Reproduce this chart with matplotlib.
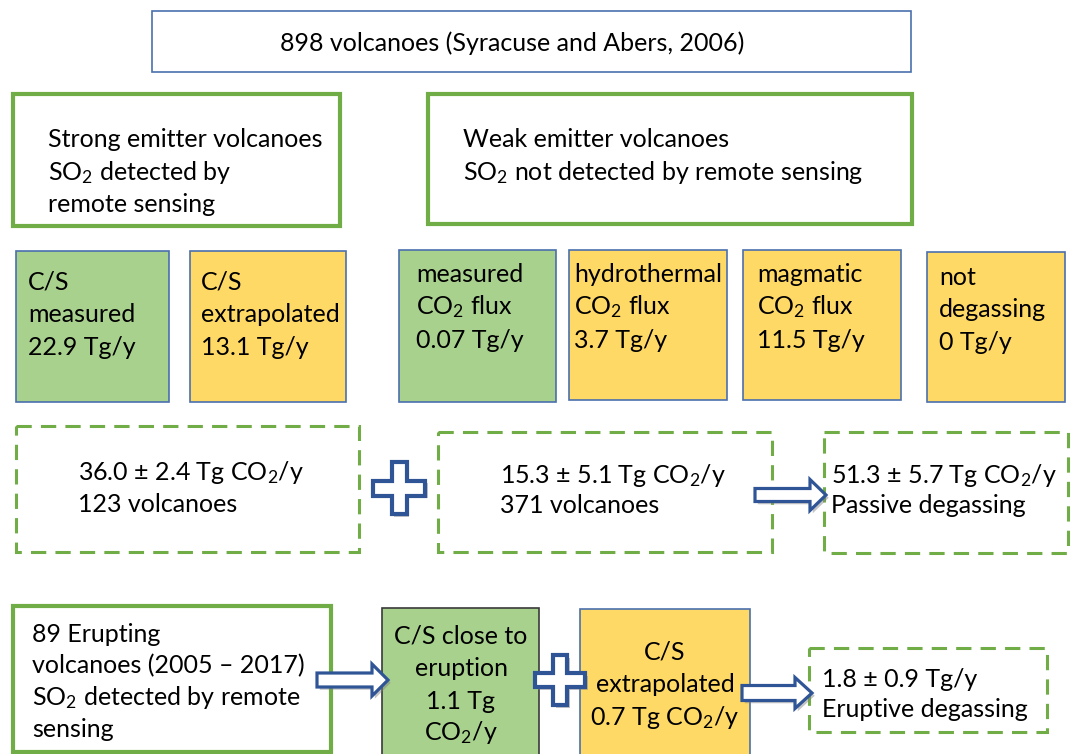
import matplotlib
matplotlib.use('Agg')
import matplotlib.pyplot as plt
from matplotlib.patches import Rectangle, Polygon
import matplotlib.patheffects as pe

plt.rcParams['font.family'] = ['Lato', 'DejaVu Sans']
plt.rcParams['mathtext.fontset'] = 'custom'
plt.rcParams['mathtext.rm'] = 'Lato'
plt.rcParams['mathtext.it'] = 'Lato:italic'
plt.rcParams['mathtext.bf'] = 'Lato:bold'

# texts of the diagram
title_text = '898 volcanoes (Syracuse and Abers, 2006)'
strong_lines = ['Strong emitter volcanoes', 'SO$_2$ detected by', 'remote sensing']
weak_lines = ['Weak emitter volcanoes', 'SO$_2$ not detected by remote sensing']
strong_src = [['C/S', 'measured', '22.9 Tg/y'],
              ['C/S', 'extrapolated', '13.1 Tg/y']]
weak_src = [['measured', 'CO$_2$ flux', '0.07 Tg/y'],
            ['hydrothermal', 'CO$_2$ flux', '3.7 Tg/y'],
            ['magmatic', 'CO$_2$ flux', '11.5 Tg/y'],
            ['not', 'degassing', '0 Tg/y']]
sums = [['36.0 ± 2.4 Tg CO$_2$/y', '123 volcanoes'],
        ['15.3 ± 5.1 Tg CO$_2$/y', '371 volcanoes'],
        ['51.3 ± 5.7 Tg CO$_2$/y', 'Passive degassing']]
erupt_lines = ['89 Erupting', 'volcanoes (2005 – 2017)', 'SO$_2$ detected by remote', 'sensing']
erupt_src = [['C/S close to', 'eruption', '1.1 Tg', 'CO$_2$/y'],
             ['C/S', 'extrapolated', '0.7 Tg CO$_2$/y']]
erupt_sum = ['1.8 ± 0.9 Tg/y', 'Eruptive degassing']

GREEN_EDGE = '#70AD47'
GREEN_FILL = '#A9D18E'
YELLOW_FILL = '#FFD966'
BLUE_EDGE = '#4A6FAE'
ARROW_BLUE = '#2F5597'
FS = 18

fig = plt.figure(figsize=(10.72, 7.54), dpi=100)
ax = fig.add_axes([0, 0, 1, 1])
ax.set_xlim(0, 1072)
ax.set_ylim(754, 0)
ax.axis('off')


def box(x0, y0, x1, y1, fc='white', ec=BLUE_EDGE, lw=1.2, ls='-'):
    ax.add_patch(Rectangle((x0, y0), x1 - x0, y1 - y0, facecolor=fc,
                           edgecolor=ec, linewidth=lw, linestyle=ls))


def lines(x, baselines, texts, ha='left', fs=FS):
    for y, t in zip(baselines, texts):
        ax.text(x, y, t, ha=ha, va='baseline', fontsize=fs, color='black')


shadow = [pe.SimplePatchShadow(offset=(2, -2), shadow_rgbFace='gray', alpha=0.45), pe.Normal()]


def plus(cx, cy, s=26, a=7.5):
    pts = [(cx - a, cy - s), (cx + a, cy - s), (cx + a, cy - a), (cx + s, cy - a),
           (cx + s, cy + a), (cx + a, cy + a), (cx + a, cy + s), (cx - a, cy + s),
           (cx - a, cy + a), (cx - s, cy + a), (cx - s, cy - a), (cx - a, cy - a)]
    p = Polygon(pts, closed=True, facecolor='white', edgecolor=ARROW_BLUE,
                linewidth=3, joinstyle='miter', zorder=5)
    p.set_path_effects(shadow)
    ax.add_patch(p)


def arrow(x0, x1, cy, xh, sh=7, hh=16):
    pts = [(x0, cy - sh), (xh, cy - sh), (xh, cy - hh), (x1, cy),
           (xh, cy + hh), (xh, cy + sh), (x0, cy + sh)]
    p = Polygon(pts, closed=True, facecolor='white', edgecolor=ARROW_BLUE,
                linewidth=2.3, joinstyle='miter', zorder=5)
    p.set_path_effects(shadow)
    ax.add_patch(p)


dash = (0, (5, 3))

# top
box(152, 11, 911, 72)
ax.text(512, 51, title_text, ha='center', va='baseline', fontsize=FS)

box(13, 94, 340, 226, ec=GREEN_EDGE, lw=3)
lines(48, [147, 180, 212], strong_lines)
box(428, 94, 912, 224, ec=GREEN_EDGE, lw=3)
lines(463, [147, 180], weak_lines)

# source boxes
src_x = [(16, 169, 28), (190, 346, 201)]
for (x0, x1, tx), txt, fc in zip(src_x, strong_src, [GREEN_FILL, YELLOW_FILL]):
    box(x0, 251, x1, 402, fc=fc)
    lines(tx, [290, 322, 355], txt)

weak_x = [(399, 556, 416, 250, 402), (569, 727, 574, 250, 400),
          (743, 901, 757, 250, 400), (927, 1065, 939, 252, 402)]
weak_base = [[282, 314, 348], [282, 314, 348], [282, 314, 348], [285, 317, 350]]
for (x0, x1, tx, y0, y1), txt, fc, bl in zip(weak_x, weak_src,
                                            [GREEN_FILL, YELLOW_FILL, YELLOW_FILL, YELLOW_FILL],
                                            weak_base):
    box(x0, y0, x1, y1, fc=fc)
    lines(tx, bl, txt)

# sums
sum_boxes = [(16, 426, 359, 552, 78, [480, 512]),
             (438, 432, 772, 552, 500, [483, 513]),
             (824, 432, 1068, 553, 831, [483, 513])]
for (x0, y0, x1, y1, tx, bl), txt in zip(sum_boxes, sums):
    box(x0, y0, x1, y1, ec=GREEN_EDGE, lw=2.2, ls=dash)
    lines(tx, bl, txt)
plus(399, 488)
arrow(755, 826, 495, 810, sh=6.5, hh=15.5)

# eruptive
box(13, 606, 331, 752, ec=GREEN_EDGE, lw=3)
lines(32, [642, 673, 705, 737], erupt_lines)

box(382, 608, 539, 770, fc=GREEN_FILL, ec='#3A3A3A')
lines(461, [643, 676, 709, 740], erupt_src[0], ha='center')
box(580, 609, 750, 770, fc=YELLOW_FILL)
lines(665, [660, 692, 725], erupt_src[1], ha='center')

box(809, 648, 1047, 732, ec=GREEN_EDGE, lw=2.2, ls=dash)
lines(822, [687, 717], erupt_sum)

arrow(317, 388, 680, 372, sh=7, hh=16)
plus(560, 680, s=25, a=7)
arrow(742, 812, 693, 795, sh=7.5, hh=15.5)

fig.savefig('out.png', dpi=100)
